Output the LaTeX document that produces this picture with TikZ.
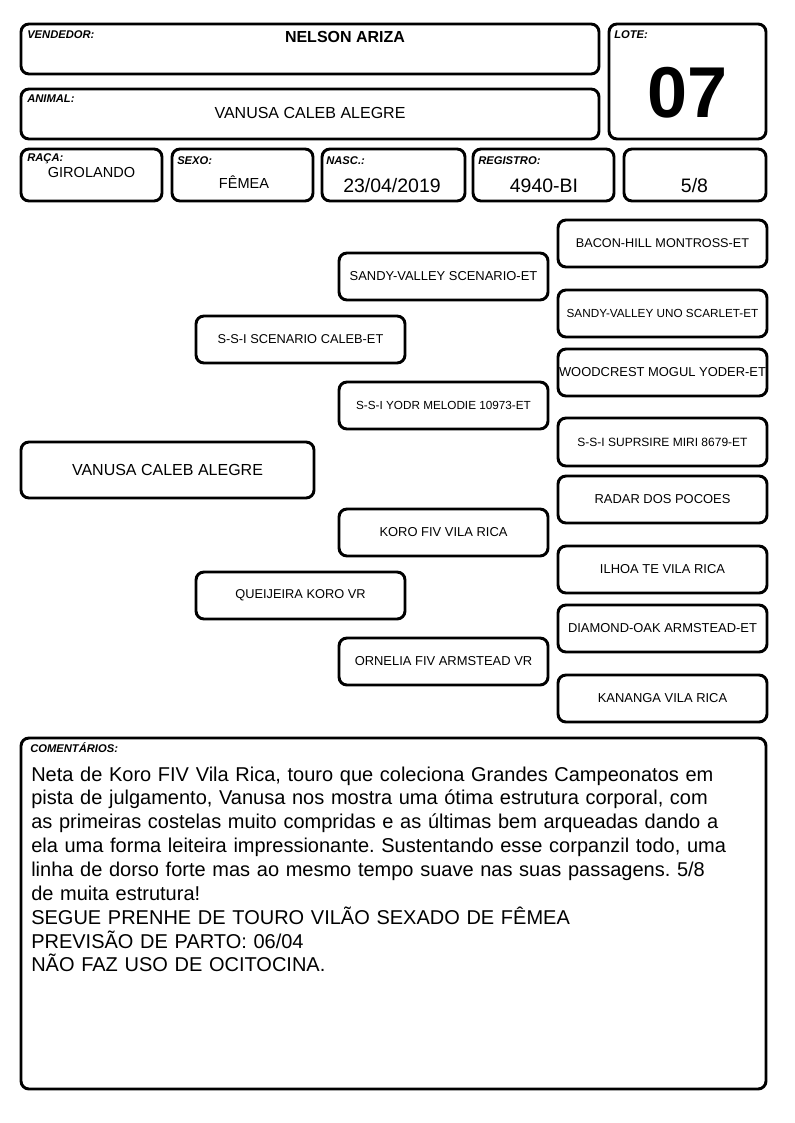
\documentclass[tikz,border=0pt]{standalone}
\usepackage{fontspec}
\setmainfont{Liberation Sans}
\frenchspacing
\tikzset{
  box/.style={draw, line width=2.2pt, rounded corners=6pt, inner sep=0pt, align=center},
  lab/.style={font=\fontsize{8.4}{9}\selectfont\bfseries\itshape, inner sep=0pt, anchor=base west},
  val/.style={inner sep=0pt, anchor=base},
}
\newcommand\mybox[6]{\node[box, minimum width={(#4-#2)*0.75pt}, minimum height={(#5-#3)*0.75pt}, font=\fontsize{#6}{#6}\selectfont] (#1) at ({(#2+#4)/2},{(#3+#5)/2})}
\begin{document}
\begin{tikzpicture}[x=0.75pt, y=-0.75pt]
\useasboundingbox (0,0) rectangle (794,1123);
% header
\mybox{vend}{21}{24}{599}{74}{9}{};
\node[lab] (lvend) at (27,39) {VENDEDOR:};
\node[val, font=\fontsize{12}{12}\selectfont\bfseries] (tvend) at (345,43) {NELSON ARIZA};
\mybox{anim}{21}{89}{599}{139}{9}{};
\node[lab] (lanim) at (27,103) {ANIMAL:};
\node[val, font=\fontsize{12}{12}\selectfont] (tanim) at (310,119) {VANUSA CALEB ALEGRE};
\mybox{lote}{609}{24}{766}{139}{9}{};
\node[lab] (llote) at (614,39) {LOTE:};
\node[val, font=\fontsize{54}{54}\selectfont\bfseries] (tlote) at (687.5,118) {07};
% row
\mybox{raca}{21}{149}{162}{201}{9}{};
\node[lab] (lraca) at (27,162) {RAÇA:};
\node[val, font=\fontsize{10.9}{11}\selectfont] (traca) at (91.5,178) {GIROLANDO};
\mybox{sexo}{172}{149}{313}{201}{9}{};
\node[lab] (lsexo) at (177,165) {SEXO:};
\node[val, font=\fontsize{10.9}{11}\selectfont] (tsexo) at (244,189) {FÊMEA};
\mybox{nasc}{322}{149}{465}{201}{9}{};
\node[lab] (lnasc) at (326,165) {NASC.:};
\node[val, font=\fontsize{14.6}{15}\selectfont] (tnasc) at (392,193) {23/04/2019};
\mybox{reg}{473}{149}{614}{201}{9}{};
\node[lab] (lreg) at (478,165) {REGISTRO:};
\node[val, font=\fontsize{14.6}{15}\selectfont] (treg) at (544,193) {4940-BI};
\mybox{frac}{624}{149}{766}{201}{9}{};
\node[val, font=\fontsize{14.6}{15}\selectfont] (tfrac) at (694.5,193) {5/8};
% pedigree
\mybox{p0}{21}{442}{314}{498}{12}{VANUSA CALEB ALEGRE};
\mybox{p1}{196}{316}{405}{363}{9.6}{S-S-I SCENARIO CALEB-ET};
\mybox{p2}{196}{572}{405}{619}{9.6}{QUEIJEIRA KORO VR};
\mybox{p3}{339}{253}{548}{300}{9.7}{SANDY-VALLEY SCENARIO-ET};
\mybox{p4}{339}{382}{548}{429}{8.8}{S-S-I YODR MELODIE 10973-ET};
\mybox{p5}{339}{509}{548}{556}{9.7}{KORO FIV VILA RICA};
\mybox{p6}{339}{638}{548}{685}{9.7}{ORNELIA FIV ARMSTEAD VR};
\mybox{p7}{558}{220}{767}{267}{9.5}{BACON-HILL MONTROSS-ET};
\mybox{p8}{558}{290}{767}{337}{8.8}{SANDY-VALLEY UNO SCARLET-ET};
\mybox{p9}{558}{349}{767}{396}{9.7}{WOODCREST MOGUL YODER-ET};
\mybox{p10}{558}{418}{767}{466}{9}{S-S-I SUPRSIRE MIRI 8679-ET};
\mybox{p11}{558}{476}{767}{523}{9.7}{RADAR DOS POCOES};
\mybox{p12}{558}{546}{767}{593}{9.7}{ILHOA TE VILA RICA};
\mybox{p13}{558}{605}{767}{652}{9.7}{DIAMOND-OAK ARMSTEAD-ET};
\mybox{p14}{558}{675}{767}{722}{9.7}{KANANGA VILA RICA};
% comments
\mybox{com}{21}{738}{766}{1089}{9}{};
\node[lab] (lcom) at (30,752) {COMENTÁRIOS:};
\node[inner sep=0pt, anchor=base west, text width=560pt, align=left,
      font=\fontsize{15}{17.9}\selectfont] (tcom) at (31,781)
{Neta de Koro FIV Vila Rica, touro que coleciona Grandes Campeonatos em\\
pista de julgamento, Vanusa nos mostra uma ótima estrutura corporal, com\\
as primeiras costelas muito compridas e as últimas bem arqueadas dando a\\
ela uma forma leiteira impressionante. Sustentando esse corpanzil todo, uma\\
linha de dorso forte mas ao mesmo tempo suave nas suas passagens. 5/8\\
de muita estrutura!\\
SEGUE PRENHE DE TOURO VILÃO SEXADO DE FÊMEA\\
PREVISÃO DE PARTO: 06/04\\
NÃO FAZ USO DE OCITOCINA.};
\end{tikzpicture}
\end{document}
